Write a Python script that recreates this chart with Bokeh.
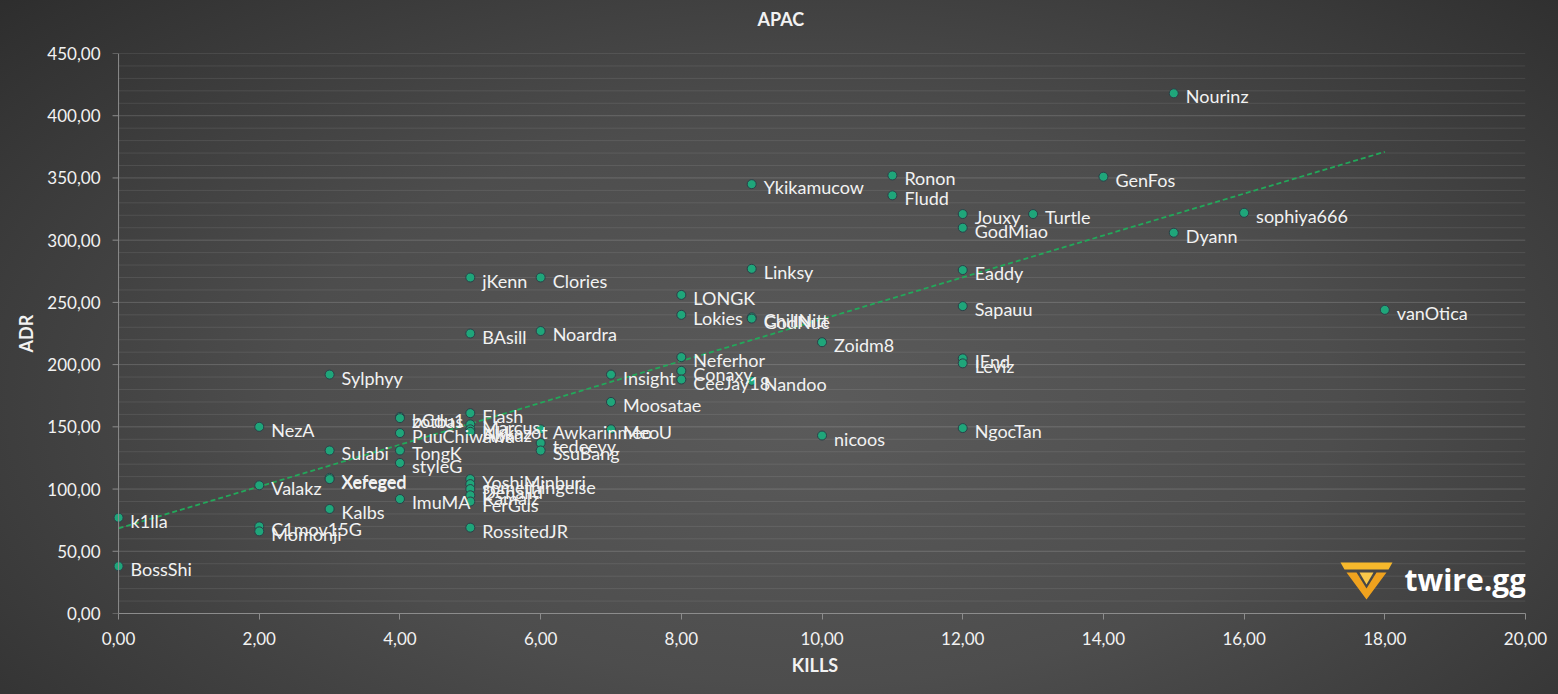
import numpy as np
from bokeh.plotting import figure
from bokeh.models import ColumnDataSource, SingleIntervalTicker, Label, Range1d, Span
from bokeh.core.properties import value
from bokeh.embed import file_html
from bokeh.resources import INLINE

# ---------------- data ----------------
names = ["Nourinz", "Ronon", "GenFos", "Ykikamucow", "Fludd", "Jouxy", "Turtle", "sophiya666",
         "GodMiao", "Dyann", "Linksy", "Eaddy", "jKenn", "Clories", "LONGK", "Sapauu", "vanOtica",
         "Lokies", "ChillNitt", "GodNue", "BAsill", "Noardra", "Zoidm8", "IEnd", "Leviz", "Neferhor",
         "Sylphyy", "Insight", "Conaxy", "CeeJay18", "Nandoo", "Moosatae", "NezA", "Flash", "bCdu1",
         "zotbas", "Marcus", "Nkkazot", "Abkuz", "PuuChiwawa", "Awkarinmeo", "MeoU", "tedeeyy",
         "SsuBang", "Sulabi", "TongK", "styleG", "nicoos", "NgocTan", "Valakz", "Xefeged", "Xereged",
         "ImuMA", "YoshiMinburi", "somethingelse", "Denalld", "Kamalz", "FerGus", "Kalbs",
         "RossitedJR", "k1lla", "C1mov15G", "Momonji", "BossShi"]
kills = [15, 11, 14, 9, 11, 12, 13, 16,
         12, 15, 9, 12, 5, 6, 8, 12, 18,
         8, 9, 9, 5, 6, 10, 12, 12, 8,
         3, 7, 8, 8, 9, 7, 2, 5, 4,
         4, 5, 5, 5, 4, 6, 7, 6,
         6, 3, 4, 4, 10, 12, 2, 3, 3,
         4, 5, 5, 5, 5, 5, 3,
         5, 0, 2, 2, 0]
adr = [418, 352, 351, 345, 336, 321, 321, 322,
       310, 306, 277, 276, 270, 270, 256, 247, 244,
       240, 238, 237, 225, 227, 218, 205, 201, 206,
       192, 192, 195, 188, 187, 170, 150, 161, 158,
       157, 152, 148, 146, 145, 148, 148, 137,
       131, 131, 131, 121, 143, 149, 103, 109, 108,
       92, 108, 104, 100, 95, 90, 84,
       69, 77, 70, 66, 38]

x_ticks = list(range(0, 21, 2))
y_ticks = list(range(0, 451, 50))
y_minor = list(range(10, 451, 10))

FONT = "Lato"
TXT = "#f2f2f2"
AXC = "#8c8c8c"

X0, X1, Y0, Y1 = -0.2, 20, 0, 450
FRAME_W = 1421
PX_PER_X = FRAME_W / (X1 - X0)
PX_PER_Y = 560 / (Y1 - Y0)


def px2x(px):
    return X0 + (px - 104) / PX_PER_X


def py2y(py):
    return (613 - py) / PX_PER_Y


# ---------------- figure ----------------
p = figure(width=1558, height=694, x_range=Range1d(X0, X1), y_range=Range1d(Y0, Y1),
           output_backend="svg", toolbar_location=None,
           min_border_left=104, min_border_right=33, min_border_top=53, min_border_bottom=81)
p.border_fill_alpha = 0
p.background_fill_alpha = 0
p.outline_line_color = None
p.styles = {"background-image": "radial-gradient(ellipse 75% 90% at 52% 58%, #5b5b5b 0%, #4d4d4d 45%, #2a2a2a 100%)"}

# title: trailing empty line lifts it towards the top edge
p.title.text = "APAC\n"
p.title.align = "left"
p.title.offset = 653
p.title.standoff = 4
p.title.text_font = FONT
p.title.text_font_size = "18px"
p.title.text_font_style = "bold"
p.title.text_color = TXT

# axes
p.xaxis.ticker = SingleIntervalTicker(interval=2, num_minor_ticks=0)
p.xaxis.bounds = (0, 20)
p.yaxis.ticker = SingleIntervalTicker(interval=50, num_minor_ticks=0)
p.xaxis.major_label_overrides = {v: f"{v:.2f}".replace(".", ",") for v in x_ticks}
p.yaxis.major_label_overrides = {v: f"{v:.2f}".replace(".", ",") for v in y_ticks}
for ax in (p.xaxis, p.yaxis):
    ax.axis_line_color = AXC
    ax.major_tick_line_color = AXC
    ax.major_tick_in = 0
    ax.major_tick_out = 6
    ax.minor_tick_line_color = None
    ax.major_label_text_font = FONT
    ax.major_label_text_font_size = "17px"
    ax.major_label_text_color = TXT
    ax.axis_label_text_font = FONT
    ax.axis_label_text_font_size = "18px"
    ax.axis_label_text_font_style = "bold"
    ax.axis_label_text_color = TXT
p.yaxis.axis_line_color = None
p.yaxis.major_tick_line_color = None
p.yaxis.major_tick_out = 0
p.xaxis.axis_label = "KILLS"
p.yaxis.axis_label = "ADR"
p.xaxis.major_label_standoff = 12
p.yaxis.major_label_standoff = 4
p.xaxis.axis_label_standoff = 6
p.yaxis.axis_label_standoff = 7

p.xgrid.grid_line_color = None
p.ygrid.grid_line_color = None

# horizontal grid lines from x=0 to x=20
maj = [v for v in y_ticks if v > 0]
mnr = [v for v in y_minor if v % 50 != 0]
p.segment(x0=[0] * len(mnr), x1=[20] * len(mnr), y0=mnr, y1=mnr,
          line_color="#ffffff", line_alpha=0.09, line_width=1)
p.segment(x0=[0] * len(maj), x1=[20] * len(maj), y0=maj, y1=maj,
          line_color="#ffffff", line_alpha=0.17, line_width=1)

# vertical axis line at x=0 with outside ticks
p.add_layout(Span(location=0, dimension="height", line_color=AXC, line_width=1))
tick_len = 6 / PX_PER_X
p.segment(x0=[-tick_len] * len(y_ticks), x1=[0] * len(y_ticks), y0=y_ticks, y1=y_ticks,
          line_color=AXC, line_width=1)

# trend line (least squares on the data)
k = np.array(kills, dtype=float)
a = np.array(adr, dtype=float)
m, b = np.polyfit(k, a, 1)
tx = np.array([0.0, k.max()])
p.line(tx, m * tx + b, line_color="#22a85a", line_width=1.8, line_dash="5 3")

src = ColumnDataSource(dict(x=kills, y=adr, name=names))
p.scatter("x", "y", source=src, size=9, fill_color="#1fa67a", line_color="#2b4048",
          line_width=1)
p.text("x", "y", text="name", source=src, x_offset=12, y_offset=3,
       text_font=value(FONT), text_font_size="18px", text_color=TXT,
       text_align="left", text_baseline="middle")

# logo (decoration)
bar_x = [px2x(v) for v in (1340, 1392, 1388, 1344)]
bar_y = [py2y(v) for v in (562, 562, 569, 569)]
p.patch(bar_x, bar_y, fill_color="#f6b82c", line_color=None)
lw_x = [px2x(v) for v in (1346, 1356, 1366, 1376, 1386, 1366)]
lw_y = [py2y(v) for v in (572, 572, 588, 572, 572, 599)]
p.patch(lw_x, lw_y, fill_color="#efa21e", line_color=None)
in_x = [px2x(v) for v in (1359, 1373, 1366)]
in_y = [py2y(v) for v in (572, 572, 584)]
p.patch(in_x, in_y, fill_color="#f9c84a", line_color=None)
p.add_layout(Label(x=px2x(1404), y=py2y(579), text="twire.gg", text_font="Open Sans",
                   text_font_size="30px", text_font_style="bold", text_color="#ffffff",
                   text_baseline="middle"))

open("out.html", "w").write(file_html(p, INLINE))
